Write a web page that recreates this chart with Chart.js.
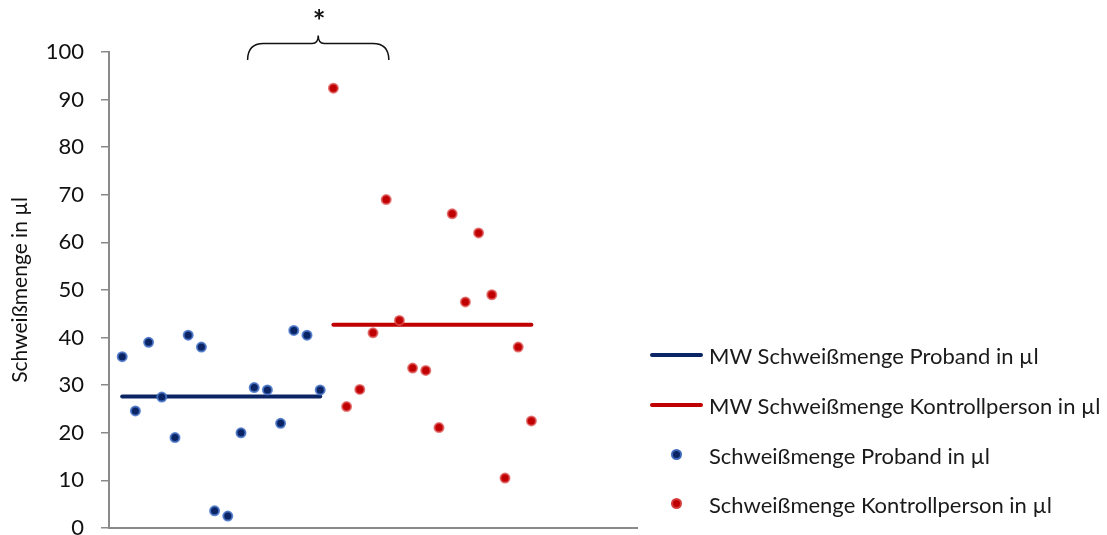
<!DOCTYPE html>
<html lang="de">
<head>
<meta charset="utf-8">
<title>Schweißmenge Proband vs. Kontrollperson</title>
<script src="https://cdn.jsdelivr.net/npm/chart.js@4/dist/chart.umd.min.js"></script>
<style>
  html, body { margin: 0; padding: 0; background: #fff; }
  #wrap { position: relative; width: 1107px; height: 535px; overflow: hidden; }
  #chart { position: absolute; left: 0; top: 0; }
  #legend { position: absolute; left: 650px; top: 0; font-family: Lato, "Open Sans", sans-serif; font-size: 22px; color: #1a1a1a; }
  .item { position: absolute; left: 0; display: flex; align-items: center; height: 26px; white-space: nowrap; }
  .swatch { width: 53px; height: 26px; position: relative; margin-right: 6px; }
  .swatch .ln { position: absolute; left: 0; right: 0; top: 11px; height: 4px; border-radius: 2px; }
  .swatch .pt { position: absolute; left: 21px; top: 7px; width: 7px; height: 7px; border-radius: 50%; border: 2px solid; }
</style>
</head>
<body>
<div id="wrap">
  <canvas id="chart" width="1107" height="535"></canvas>
  <div id="legend"></div>
</div>
<script>
// Schweißmenge je Person (µl)
const probandValues = [36, 24.6, 39, 27.5, 19, 40.5, 38, 3.6, 2.5, 20, 29.5, 29, 22, 41.5, 40.5, 29];
const kontrollValues = [92.4, 25.5, 29.1, 41, 69, 43.6, 33.6, 33.1, 21.1, 66, 47.5, 62, 49, 10.5, 38, 22.5];
// Mittelwerte (MW)
const probandMean = 27.6;
const kontrollMean = 42.7;
const yTicks = [0, 10, 20, 30, 40, 50, 60, 70, 80, 90, 100];
const seriesLabels = [
  'MW Schweißmenge Proband in µl',
  'MW Schweißmenge Kontrollperson in µl',
  'Schweißmenge Proband in µl',
  'Schweißmenge Kontrollperson in µl'
];

const NAVY = '#0b2463';
const NAVY_HALO = 'rgba(70,115,200,0.85)';
const RED = '#c00000';
const RED_HALO = 'rgba(220,80,80,0.75)';
const AXIS = '#8a8a8a';
const FONT = 'Lato, "Open Sans", sans-serif';

// Personen laufen fortlaufend über die x-Achse: Probanden zuerst, danach Kontrollpersonen
const probandPoints = probandValues.map((v, i) => ({ x: i + 1, y: v }));
const kontrollPoints = kontrollValues.map((v, i) => ({ x: probandValues.length + i + 1, y: v }));
const probandMeanLine = [
  { x: 1, y: probandMean },
  { x: probandValues.length, y: probandMean }
];
const kontrollMeanLine = [
  { x: probandValues.length + 1, y: kontrollMean },
  { x: probandValues.length + kontrollValues.length, y: kontrollMean }
];

// Geschweifte Klammer mit Signifikanzstern über beiden Gruppen
const bracePlugin = {
  id: 'brace',
  afterDraw(chart) {
    const { ctx, scales: { x } } = chart;
    const left = x.getPixelForValue(10.5);
    const right = x.getPixelForValue(21.2);
    const mid = (left + right) / 2;
    const yBar = 43.5, yEnd = 60, yTip = 35.5, r = 16;
    ctx.save();
    ctx.strokeStyle = '#111';
    ctx.lineWidth = 1.5;
    ctx.beginPath();
    ctx.moveTo(left, yEnd);
    ctx.quadraticCurveTo(left, yBar, left + r, yBar);
    ctx.lineTo(mid - 6, yBar);
    ctx.quadraticCurveTo(mid, yBar, mid, yTip);
    ctx.quadraticCurveTo(mid, yBar, mid + 6, yBar);
    ctx.lineTo(right - r, yBar);
    ctx.quadraticCurveTo(right, yBar, right, yEnd);
    ctx.stroke();
    ctx.fillStyle = '#111';
    ctx.font = 'bold 30px ' + FONT;
    ctx.textAlign = 'center';
    ctx.textBaseline = 'middle';
    ctx.fillText('*', mid + 1, 22);
    ctx.restore();
  }
};

const chart = new Chart(document.getElementById('chart'), {
  type: 'scatter',
  data: {
    datasets: [
      {
        label: seriesLabels[0],
        type: 'line',
        data: probandMeanLine,
        borderColor: NAVY,
        borderWidth: 4,
        borderCapStyle: 'round',
        pointRadius: 0,
        order: 2
      },
      {
        label: seriesLabels[1],
        type: 'line',
        data: kontrollMeanLine,
        borderColor: RED,
        borderWidth: 4,
        borderCapStyle: 'round',
        pointRadius: 0,
        order: 2
      },
      {
        label: seriesLabels[2],
        data: probandPoints,
        backgroundColor: NAVY,
        borderColor: NAVY_HALO,
        borderWidth: 2,
        pointRadius: 4.5,
        order: 1
      },
      {
        label: seriesLabels[3],
        data: kontrollPoints,
        backgroundColor: RED,
        borderColor: RED_HALO,
        borderWidth: 2,
        pointRadius: 4.5,
        order: 1
      }
    ]
  },
  options: {
    responsive: false,
    animation: false,
    layout: { padding: { left: 0, right: 470, top: 52, bottom: 0 } },
    plugins: {
      legend: { display: false },
      tooltip: { enabled: false }
    },
    scales: {
      x: {
        type: 'linear',
        min: 0,
        max: 40,
        ticks: { display: false },
        grid: { display: true, drawOnChartArea: false, drawTicks: false },
        border: { display: true, color: AXIS, width: 2 },
        afterFit(scale) { scale.height = 7; scale.paddingLeft = 0; scale.paddingRight = 0; }
      },
      y: {
        min: 0,
        max: 100,
        afterBuildTicks(scale) { scale.ticks = yTicks.map(v => ({ value: v })); },
        ticks: {
          color: '#111',
          font: { family: FONT, size: 22 },
          padding: 17
        },
        grid: { drawOnChartArea: false, drawTicks: true, tickLength: 8, color: AXIS, lineWidth: 1.5 },
        border: { display: true, color: AXIS, width: 2 },
        title: {
          display: true,
          text: 'Schweißmenge in µl',
          color: '#111',
          font: { family: FONT, size: 21 },
          padding: { top: 8, bottom: 0 }
        },
        afterFit(scale) {
          scale.width = 109;
          scale.paddingTop = 0;
          scale.paddingBottom = 0;
        }
      }
    }
  },
  plugins: [bracePlugin]
});

// Legende als HTML, aus den Datensätzen des Diagramms aufgebaut
const legendRows = [355, 405, 455, 504];
const legendEl = document.getElementById('legend');
chart.data.datasets.forEach((ds, i) => {
  const row = document.createElement('div');
  row.className = 'item';
  row.style.top = (legendRows[i] - 13) + 'px';
  const sw = document.createElement('div');
  sw.className = 'swatch';
  const mark = document.createElement('div');
  if (ds.type === 'line') {
    mark.className = 'ln';
    mark.style.background = ds.borderColor;
  } else {
    mark.className = 'pt';
    mark.style.background = ds.backgroundColor;
    mark.style.borderColor = ds.borderColor;
  }
  sw.appendChild(mark);
  const txt = document.createElement('span');
  txt.textContent = ds.label;
  row.appendChild(sw);
  row.appendChild(txt);
  legendEl.appendChild(row);
});
</script>
</body>
</html>
